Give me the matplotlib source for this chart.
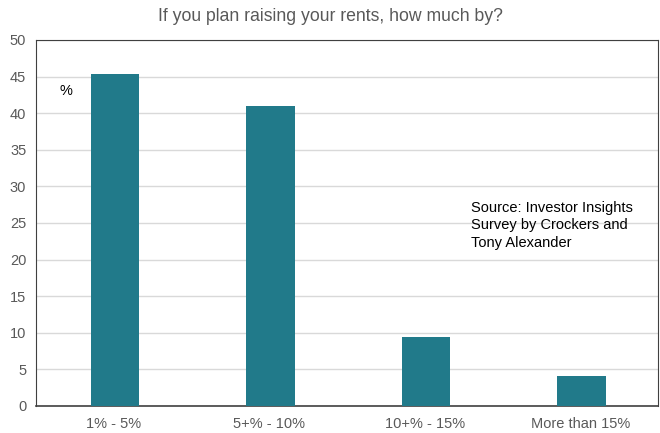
import matplotlib.pyplot as plt

categories = ["1% - 5%", "5+% - 10%", "10+% - 15%", "More than 15%"]
shares = [45.4, 41.0, 9.4, 4.1]
yticks = [0, 5, 10, 15, 20, 25, 30, 35, 40, 45, 50]

plt.rcParams['font.family'] = ['Liberation Sans', 'DejaVu Sans']

fig = plt.figure(figsize=(6.6, 4.33), dpi=100)
ax = fig.add_axes([0.0545, 0.0624, 0.9425, 0.8453])

x = range(len(categories))
ax.bar([i + 0.008 for i in x], shares, width=0.31, color='#217a8a', zorder=3)

ax.set_xlim(-0.5, len(categories) - 0.5)
ax.set_ylim(0, 50)
ax.set_yticks(yticks)
ax.set_xticks(list(x))
ax.set_xticklabels(categories)
ax.tick_params(axis='both', length=0, labelsize=10.5, colors='#595959')
ax.tick_params(axis='x', pad=8)
ax.tick_params(axis='y', pad=7)
ax.grid(axis='y', color='#d9d9d9', linewidth=1, zorder=0)

for side in ['top', 'right', 'left']:
    ax.spines[side].set_color('#404040')
    ax.spines[side].set_linewidth(0.8)
ax.spines['bottom'].set_color('#404040')
ax.spines['bottom'].set_linewidth(1.2)

fig.suptitle("If you plan raising your rents, how much by?", y=0.982,
             fontsize=12.7, color='#595959')
ax.text(-0.31, 43.0, "%", fontsize=10.5, color='black', ha='center', va='center')
ax.text(2.295, 28.0, "Source: Investor Insights\nSurvey by Crockers and\nTony Alexander",
        fontsize=10.5, color='black', ha='left', va='top', linespacing=1.3)

fig.savefig("out.png")
